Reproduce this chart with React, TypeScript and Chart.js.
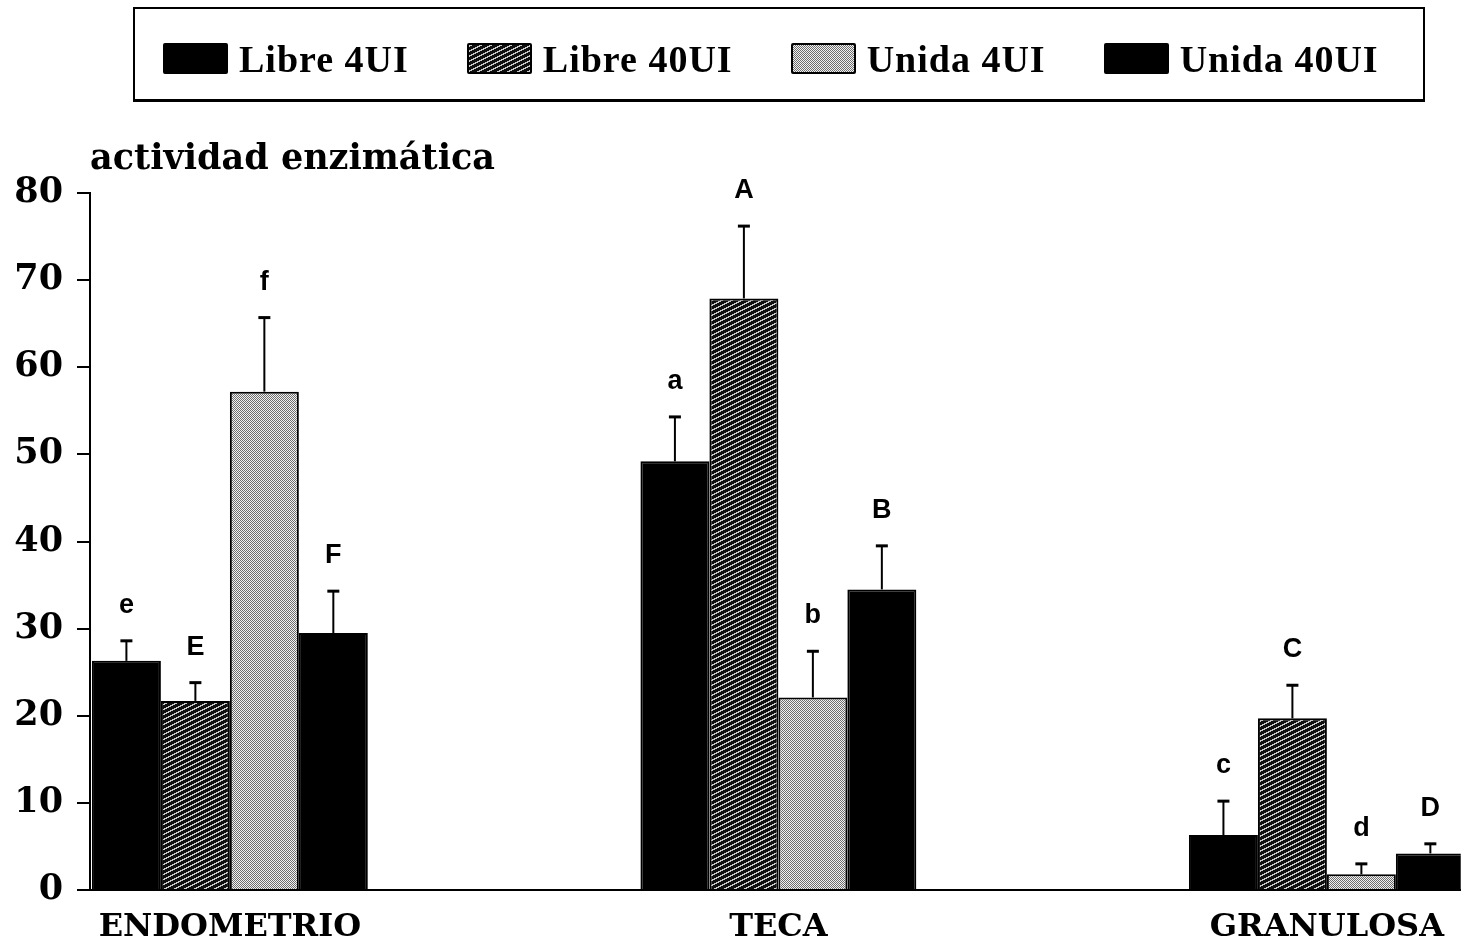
import React, { useEffect, useRef, useState } from 'react';
import { Chart, registerables } from 'chart.js';

Chart.register(...registerables);

// ---------- data ----------
const categories = ['ENDOMETRIO', 'TECA', 'GRANULOSA'];
const seriesNames = ['Libre 4UI', 'Libre 40UI', 'Unida 4UI', 'Unida 40UI'];

const libre4 = [26.3, 49.2, 6.3];
const libre40 = [21.7, 67.9, 19.7];
const unida4 = [57.2, 22.1, 1.8];
const unida40 = [29.5, 34.5, 4.2];

const libre4Err = [2.3, 5.1, 3.9];
const libre40Err = [2.1, 8.3, 3.8];
const unida4Err = [8.5, 5.3, 1.2];
const unida40Err = [4.8, 5.0, 1.1];

const libre4Letters = ['e', 'a', 'c'];
const libre40Letters = ['E', 'A', 'C'];
const unida4Letters = ['f', 'b', 'd'];
const unida40Letters = ['F', 'B', 'D'];

const yMin = 0;
const yMax = 80;
const yStep = 10;
const axisTitle = 'actividad enzimática';

// ---------- patterns ----------
function makeHatchCanvas(): HTMLCanvasElement {
  const c = document.createElement('canvas');
  c.width = 10;
  c.height = 5;
  const g = c.getContext('2d')!;
  const img = g.createImageData(10, 5);
  for (let y = 0; y < 5; y++) {
    for (let x = 0; x < 10; x++) {
      const light = (x + 2 * y) % 10 < 3;
      const v = light ? 200 : 15;
      const i = (y * 10 + x) * 4;
      img.data[i] = v;
      img.data[i + 1] = v;
      img.data[i + 2] = v;
      img.data[i + 3] = 255;
    }
  }
  g.putImageData(img, 0, 0);
  return c;
}

function makeDotCanvas(): HTMLCanvasElement {
  const c = document.createElement('canvas');
  c.width = 2;
  c.height = 2;
  const g = c.getContext('2d')!;
  g.fillStyle = '#f2f2f2';
  g.fillRect(0, 0, 2, 2);
  g.fillStyle = '#6e6e6e';
  g.fillRect(0, 0, 1, 1);
  g.fillRect(1, 1, 1, 1);
  return c;
}

export default function App() {
  const canvasRef = useRef<HTMLCanvasElement | null>(null);
  const [swatches, setSwatches] = useState<string[]>(['#000', '#000', '#000', '#000']);

  useEffect(() => {
    document.body.style.margin = '0';
    const hatchC = makeHatchCanvas();
    const dotC = makeDotCanvas();
    setSwatches([
      '#000',
      `url(${hatchC.toDataURL()})`,
      `url(${dotC.toDataURL()})`,
      '#000',
    ]);
    const ctx = canvasRef.current!.getContext('2d')!;
    const hatch = ctx.createPattern(hatchC, 'repeat')!;
    const dots = ctx.createPattern(dotC, 'repeat')!;

    const seriesValues = [libre4, libre40, unida4, unida40];
    const seriesErr = [libre4Err, libre40Err, unida4Err, unida40Err];
    const seriesLetters = [libre4Letters, libre40Letters, unida4Letters, unida40Letters];
    const fills: (string | CanvasPattern)[] = ['#000', hatch, dots, '#000'];

    const errorPlugin = {
      id: 'errorBarsAndLetters',
      afterDatasetsDraw(chart: any) {
        const c = chart.ctx;
        const yScale = chart.scales.y;
        c.save();
        chart.data.datasets.forEach((ds: any, di: number) => {
          const meta = chart.getDatasetMeta(di);
          meta.data.forEach((bar: any, i: number) => {
            const v = seriesValues[di][i];
            const e = seriesErr[di][i];
            const topY = yScale.getPixelForValue(v + e);
            const x = bar.x;
            c.strokeStyle = '#000';
            c.lineWidth = 2;
            c.beginPath();
            c.moveTo(x, bar.y);
            c.lineTo(x, topY);
            c.stroke();
            c.lineWidth = 3;
            c.beginPath();
            c.moveTo(x - 6, topY);
            c.lineTo(x + 6, topY);
            c.stroke();
            c.fillStyle = '#000';
            c.font = 'bold 27px "Liberation Sans", Arial, sans-serif';
            c.textAlign = 'center';
            c.textBaseline = 'alphabetic';
            c.fillText(seriesLetters[di][i], x, topY - 28);
          });
        });
        c.restore();
      },
    };

    const titlePlugin = {
      id: 'axisTitleTopLeft',
      afterDraw(chart: any) {
        const c = chart.ctx;
        c.save();
        c.fillStyle = '#000';
        c.font = 'bold 35px "DejaVu Serif", serif';
        c.textAlign = 'left';
        c.textBaseline = 'alphabetic';
        c.fillText(axisTitle, chart.chartArea.left, 169);
        c.restore();
      },
    };

    const chart = new Chart(ctx, {
      type: 'bar',
      data: {
        datasets: seriesNames.map((name, di) => ({
          label: name,
          data: seriesValues[di].map((v, i) => ({ x: i, y: v })),
          backgroundColor: fills[di] as any,
          borderColor: '#000',
          borderWidth: 2,
          borderSkipped: 'bottom',
          categoryPercentage: 0.503,
          barPercentage: 1,
        })),
      },
      options: {
        responsive: false,
        animation: false,
        devicePixelRatio: 1,
        layout: { padding: { top: 193, right: 0, bottom: 0, left: 0 } },
        plugins: {
          legend: { display: false },
          title: { display: false },
          tooltip: { enabled: false },
        },
        scales: {
          x: {
            type: 'linear',
            min: -0.255,
            max: 2.244,
            offset: false,
            afterBuildTicks: (scale: any) => {
              scale.ticks = categories.map((_, i) => ({ value: i }));
            },
            afterFit: (scale: any) => {
              scale.height = 51;
            },
            grid: { display: false, drawTicks: false },
            border: { display: true, color: '#000', width: 2 },
            ticks: {
              autoSkip: false,
              maxRotation: 0,
              padding: 18,
              color: '#000',
              font: { family: '"DejaVu Serif", serif', weight: 'bold', size: 32 },
              callback: (v: any) => categories[Math.round(Number(v))] ?? '',
            },
          },
          y: {
            min: yMin,
            max: yMax,
            afterFit: (scale: any) => {
              scale.width = 90;
            },
            grid: {
              display: true,
              drawOnChartArea: false,
              drawTicks: true,
              tickLength: 13,
              color: '#000',
              lineWidth: 2,
            },
            border: { display: true, color: '#000', width: 2 },
            ticks: {
              stepSize: yStep,
              padding: 14,
              color: '#000',
              font: { family: '"DejaVu Serif", serif', weight: 'bold', size: 35 },
            },
          },
        },
      },
      plugins: [errorPlugin, titlePlugin],
    } as any);

    return () => chart.destroy();
  }, []);

  return (
    <div style={{ position: 'relative', width: 1462, height: 941, background: '#fff', overflow: 'hidden' }}>
      <canvas
        ref={canvasRef}
        width={1462}
        height={941}
        style={{ position: 'absolute', left: 0, top: 0, width: 1462, height: 941 }}
      />
      <div
        style={{
          position: 'absolute',
          left: 133,
          top: 7,
          width: 1292,
          height: 95,
          boxSizing: 'border-box',
          border: '2px solid #000',
          borderBottomWidth: 3,
          display: 'flex',
          alignItems: 'center',
          paddingLeft: 28,
          paddingTop: 9,
          gap: 58,
        }}
      >
        {seriesNames.map((name, i) => (
          <div key={name} style={{ display: 'flex', alignItems: 'center' }}>
            <div
              style={{
                width: 61,
                height: 27,
                border: '2px solid #000',
                borderRadius: 2,
                background: swatches[i],
                marginRight: 11,
              }}
            />
            <span
              style={{
                fontFamily: '"Liberation Serif", serif',
                fontWeight: 'bold',
                fontSize: 38,
                letterSpacing: 1,
                lineHeight: 1,
                color: '#000',
              }}
            >
              {name}
            </span>
          </div>
        ))}
      </div>
    </div>
  );
}
